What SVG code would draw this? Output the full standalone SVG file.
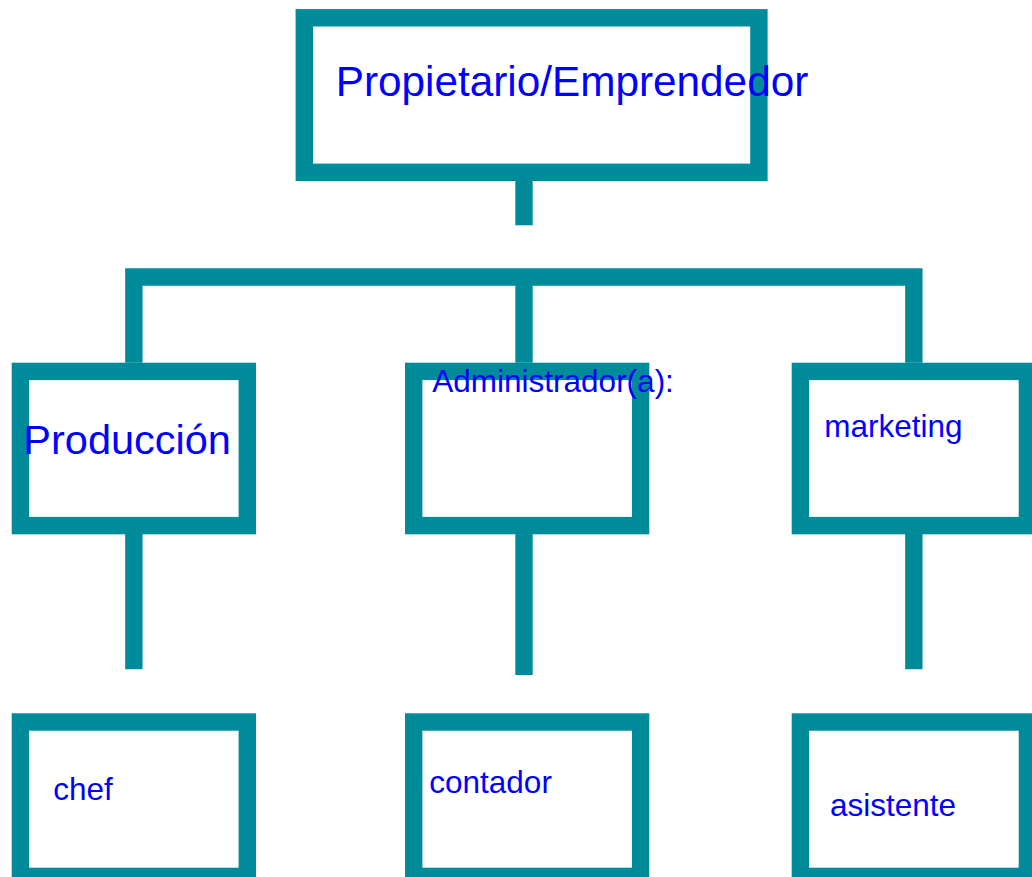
<svg xmlns="http://www.w3.org/2000/svg" width="1032" height="877" viewBox="0 0 1032 877">
<style>
.box{fill:#ffffff;stroke:#008b9a;stroke-width:17.4}
.con{fill:none;stroke:#008b9a;stroke-width:17.4;stroke-linejoin:miter;stroke-linecap:butt}
text{font-family:"Liberation Sans",Arial,sans-serif;fill:#0000ff}
</style>
<rect width="1032" height="877" fill="#ffffff"/>
<g id="connectors">
<line class="con" x1="524" y1="181" x2="524" y2="225.3"/>
<path class="con" d="M133.85 362.7 V277 H913.85 V362.7"/>
<line class="con" x1="524" y1="277" x2="524" y2="362.7"/>
<line class="con" x1="133.85" y1="534" x2="133.85" y2="669.3"/>
<line class="con" x1="524" y1="534" x2="524" y2="675"/>
<line class="con" x1="913.85" y1="534" x2="913.85" y2="669.3"/>
</g>
<g id="node-propietario">
<rect class="box" x="304.3" y="17.8" width="454.6" height="154.5"/>
<text x="335.7" y="95.7" font-size="42.3">Propietario/Emprendedor</text>
</g>
<g id="node-produccion">
<rect class="box" x="20.4" y="371.4" width="226.9" height="154.2"/>
<text x="23.3" y="454.3" font-size="41.5">Producción</text>
</g>
<g id="node-administrador">
<rect class="box" x="413.7" y="371.4" width="226.9" height="154.2"/>
<text x="432.3" y="391.7" font-size="31.5">Administrador(a):</text>
</g>
<g id="node-marketing">
<rect class="box" x="800.4" y="371.4" width="227" height="154.2"/>
<text x="824.3" y="436.7" font-size="31.5">marketing</text>
</g>
<g id="node-chef">
<rect class="box" x="20.4" y="722" width="226.9" height="154.4"/>
<text x="53.3" y="800" font-size="31.5">chef</text>
</g>
<g id="node-contador">
<rect class="box" x="413.7" y="722" width="226.9" height="154.4"/>
<text x="429.3" y="792.7" font-size="31.5">contador</text>
</g>
<g id="node-asistente">
<rect class="box" x="800.4" y="722" width="227" height="154.4"/>
<text x="830" y="816" font-size="31.5">asistente</text>
</g>
</svg>
